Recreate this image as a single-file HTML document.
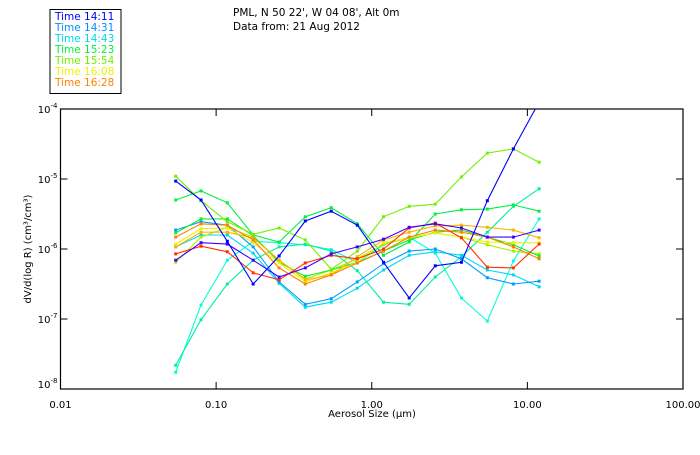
<!DOCTYPE html>
<html><head><meta charset="utf-8"><style>
body{margin:0;background:#fff;width:700px;height:450px;overflow:hidden}
svg{font-family:"DejaVu Sans","Liberation Sans",sans-serif}
</style></head><body>
<svg id="chart" width="700" height="450" viewBox="0 0 700 450">
<rect x="50" y="9.5" width="71" height="84" fill="#fff" stroke="#000" stroke-width="1"/>
<g id="legend" font-size="10.5"></g>
<text x="233" y="16" font-size="10.5">PML, N 50 22', W 04 08', Alt 0m</text>
<text x="233" y="30" font-size="10.5">Data from: 21 Aug 2012</text>
<defs><clipPath id="pc"><rect x="60.5" y="109" width="622" height="280"/></clipPath></defs>
<g id="series" clip-path="url(#pc)"></g>
<rect x="60.5" y="109" width="622.5" height="280" fill="none" stroke="#000" stroke-width="1.2"/>
<g id="axes" font-size="10"></g>
<text x="372" y="417" font-size="10" text-anchor="middle">Aerosol Size (μm)</text>
<text transform="translate(31,249) rotate(-90)" font-size="10" text-anchor="middle">dV/d(log R) (cm³/cm³)</text>
</svg>
<script>
const sizes=[0.055,0.080,0.118,0.173,0.254,0.374,0.549,0.807,1.19,1.74,2.56,3.77,5.53,8.13,11.9];
const legendLabels=["Time 14:11","Time 14:31","Time 14:43","Time 15:23","Time 15:54","Time 16:08","Time 16:28"];
const legendColors=["#0000ff","#0090ff","#00d8e8","#00f040","#70f000","#f0f000","#ff8000"];
const xTicks=[0.01,0.1,1,10,100];
const xTickLabels=["0.01","0.10","1.00","10.00","100.00"];
const yTicks=[-4,-5,-6,-7,-8];
// series values as log10(dV/dlogR)
const s1=[-5.03,-5.3,-5.89,-6.5,-6.1,-5.6,-5.46,-5.66,-6.19,-6.7,-6.24,-6.19,-5.31,-4.57,-3.9];
const s2=[-6.16,-5.91,-5.93,-6.16,-6.4,-6.27,-6.07,-5.97,-5.86,-5.69,-5.64,-5.7,-5.83,-5.83,-5.73];
const s3=[-6.07,-5.96,-6.04,-6.34,-6.44,-6.2,-6.09,-6.14,-6.0,-5.7,-5.63,-5.84,-6.26,-6.27,-5.93];
const s4=[-5.83,-5.64,-5.66,-5.87,-6.27,-6.5,-6.37,-6.2,-6.03,-5.83,-5.73,-5.76,-5.83,-5.97,-6.14];
const s5=[-5.97,-5.76,-5.76,-5.84,-6.16,-6.44,-6.37,-6.11,-5.87,-5.76,-5.67,-5.66,-5.69,-5.73,-5.84];
const s6=[-5.93,-5.71,-5.7,-5.91,-6.2,-6.47,-6.34,-6.19,-5.91,-5.84,-5.77,-5.83,-5.9,-5.91,-5.91];
const s7=[-4.96,-5.31,-5.61,-5.79,-5.7,-5.87,-6.29,-6.03,-5.54,-5.39,-5.36,-4.97,-4.63,-4.57,-4.76];
const s8=[-5.3,-5.17,-5.34,-5.8,-5.9,-5.54,-5.41,-5.64,-6.09,-5.9,-5.5,-5.44,-5.43,-5.37,-5.46];
const s9=[-5.77,-5.57,-5.57,-5.81,-6.19,-6.39,-6.3,-6.19,-6.03,-5.87,-5.76,-5.73,-5.83,-5.94,-6.1];
const s10=[-6.19,-5.83,-5.69,-5.83,-6.16,-6.43,-6.3,-6.14,-5.93,-5.84,-5.77,-5.83,-5.94,-6.03,-6.07];
const s11=[-5.73,-5.61,-5.66,-5.97,-6.47,-6.79,-6.71,-6.47,-6.21,-6.03,-6.0,-6.14,-6.41,-6.5,-6.46];
const s12=[-5.97,-5.8,-5.8,-6.06,-6.49,-6.83,-6.76,-6.56,-6.3,-6.09,-6.04,-6.09,-6.3,-6.37,-6.54];
const s13=[-7.66,-7.01,-6.5,-6.16,-5.97,-5.93,-6.03,-6.31,-6.76,-6.79,-6.4,-6.11,-5.76,-5.39,-5.14];
const s14=[-7.76,-6.80,-6.16,-5.89,-5.91,-5.94,-6.01,-6.19,-5.94,-5.83,-6.06,-6.7,-7.03,-6.17,-5.57];
const seriesList=[s14,s13,s12,s11,s10,s9,s8,s7,s6,s5,s4,s3,s2,s1];
const seriesColors=["#00ffd8","#00f0a0","#00d8f0","#00a0ff","#a8f000","#10f020","#00f040","#70f000","#f0f000","#ffb000","#ff8000","#ff3000","#4000ff","#0000ff"];
const NS="http://www.w3.org/2000/svg";
const X0=60.5,X1=683,Y0=109,Y1=389;
function xs(v){return X0+(Math.log10(v)+2)/4*(X1-X0);}
function ys(l){return Y0+(-4-l)/4*(Y1-Y0);}
const lg=document.getElementById('legend');
legendLabels.forEach((t,i)=>{const e=document.createElementNS(NS,'text');
e.setAttribute('x',55);e.setAttribute('y',20+i*11);e.setAttribute('fill',legendColors[i]);e.textContent=t;


lg.appendChild(e);});
const ax=document.getElementById('axes');
xTicks.forEach((v,i)=>{const x=xs(v);
[[Y1,Y1-7],[Y0,Y0+7]].forEach(p=>{const l=document.createElementNS(NS,'line');l.setAttribute('x1',x);l.setAttribute('x2',x);l.setAttribute('y1',p[0]);l.setAttribute('y2',p[1]);l.setAttribute('stroke','#000');


ax.appendChild(l);});
const t=document.createElementNS(NS,'text');t.setAttribute('x',x);t.setAttribute('y',Y1+19);t.setAttribute('text-anchor','middle');t.textContent=xTickLabels[i];


ax.appendChild(t);});
yTicks.forEach(v=>{const y=ys(v);
[[X0,X0+7],[X1,X1-7]].forEach(p=>{const l=document.createElementNS(NS,'line');l.setAttribute('y1',y);l.setAttribute('y2',y);l.setAttribute('x1',p[0]);l.setAttribute('x2',p[1]);l.setAttribute('stroke','#000');


ax.appendChild(l);});
const t=document.createElementNS(NS,'text');t.setAttribute('x',X0-3);t.setAttribute('y',y+(v===-8?-1:4));t.setAttribute('text-anchor','end');
t.innerHTML='10<tspan dy="-5" font-size="7">'+v+'</tspan>';


ax.appendChild(t);});
const sg=document.getElementById('series');
seriesList.forEach((s,k)=>{const c=seriesColors[k];
const pl=document.createElementNS(NS,'polyline');
pl.setAttribute('points',s.map((v,i)=>xs(sizes[i]).toFixed(1)+','+ys(v).toFixed(1)).join(' '));
pl.setAttribute('fill','none');pl.setAttribute('stroke',c);pl.setAttribute('stroke-width','1.1');


sg.appendChild(pl);
s.forEach((v,i)=>{const r=document.createElementNS(NS,'rect');r.setAttribute('x',xs(sizes[i])-1.5);r.setAttribute('y',ys(v)-1.5);r.setAttribute('width',3);r.setAttribute('height',3);r.setAttribute('fill',c);


sg.appendChild(r);});});
</script>
</body></html>
